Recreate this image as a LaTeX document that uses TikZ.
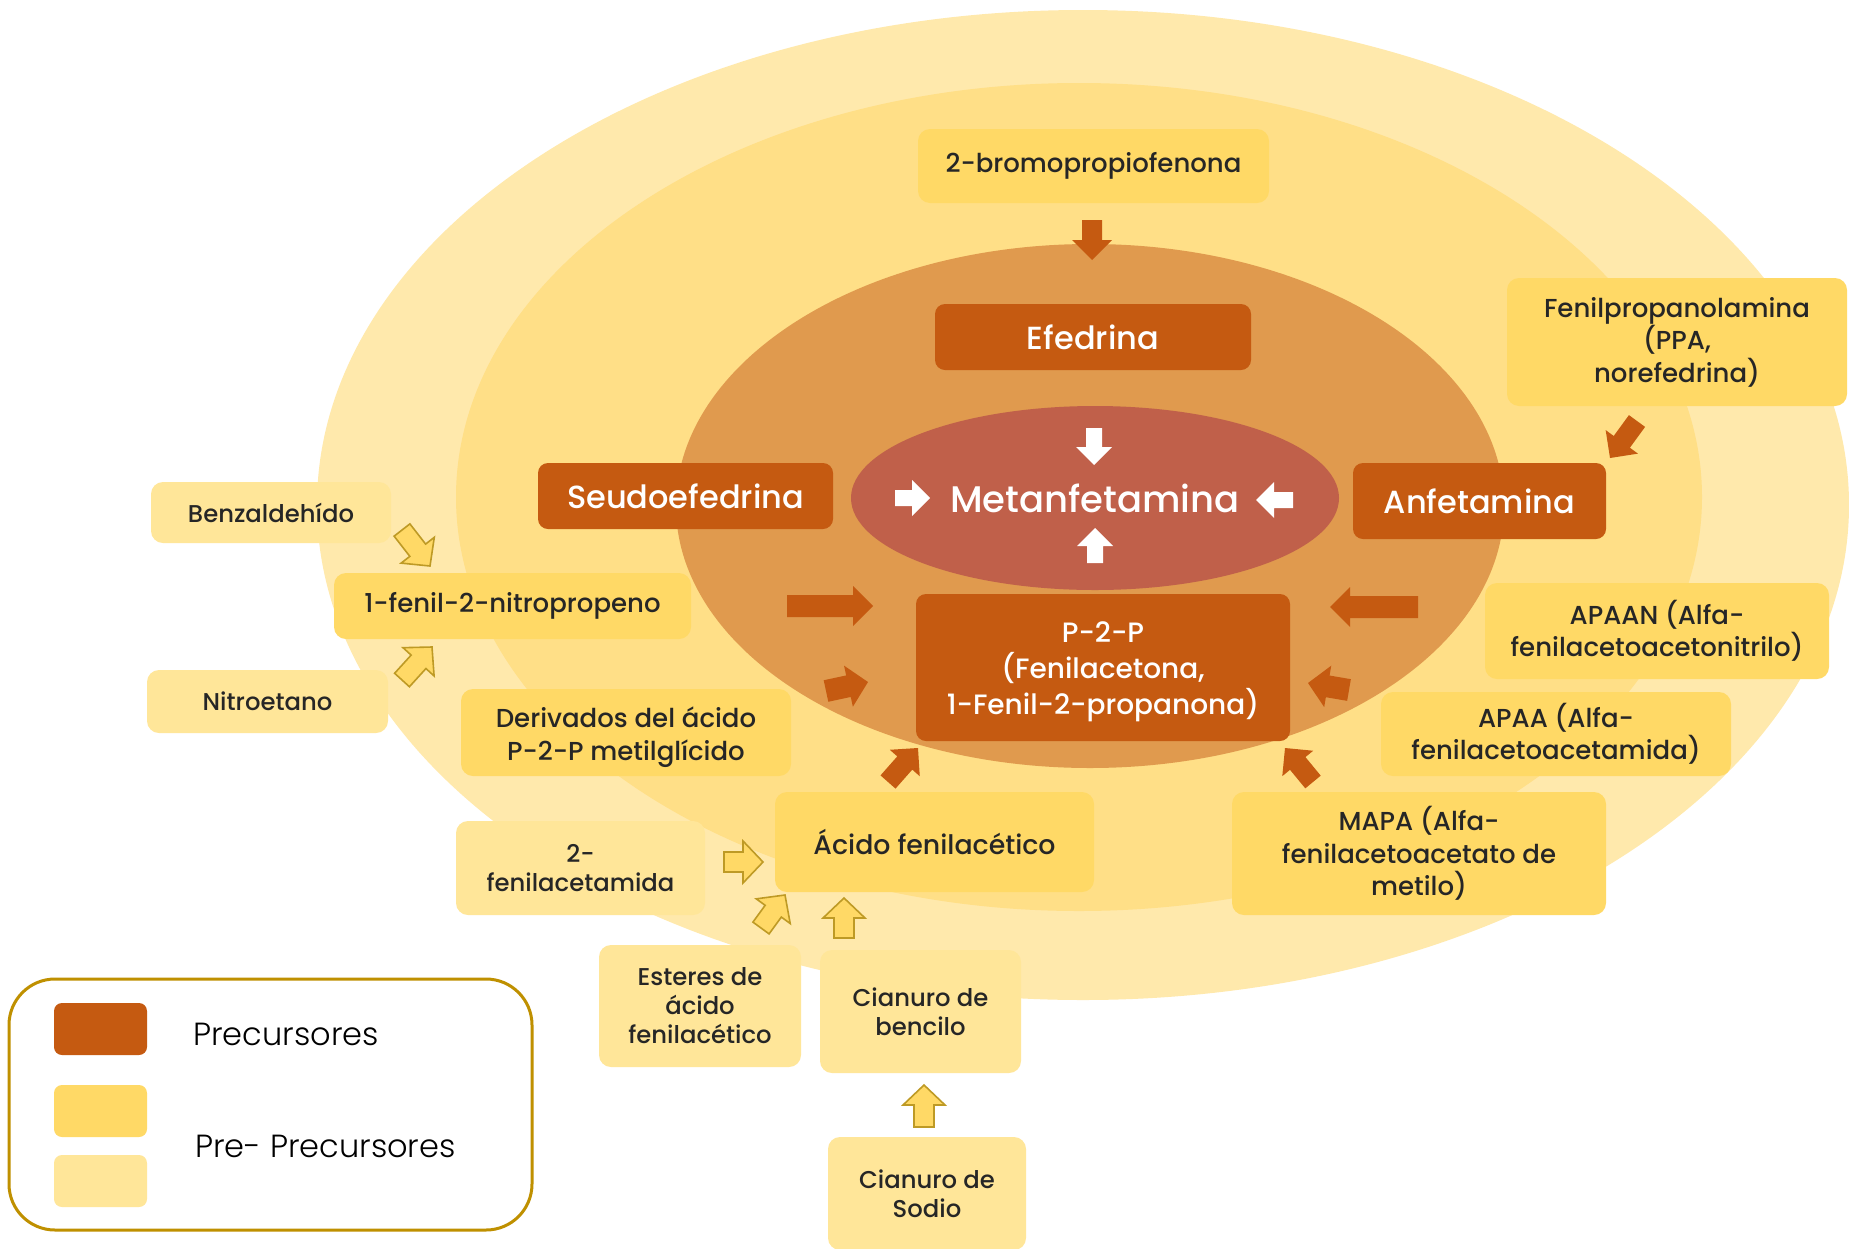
\documentclass[tikz,border=0pt]{standalone}
\usepackage{fontspec}
\setmainfont{Poppins}
\newfontfamily\medfont{Poppins Medium}
\newfontfamily\lightfont{Poppins Light}
\usetikzlibrary{shapes.geometric}
\definecolor{outerY}{HTML}{FFE9AC}
\definecolor{midY}{HTML}{FFDF87}
\definecolor{innerO}{HTML}{E09A4E}
\definecolor{coreR}{HTML}{C0604A}
\definecolor{precO}{HTML}{C55A11}
\definecolor{darkY}{HTML}{FFD966}
\definecolor{lightY}{HTML}{FFE699}
\definecolor{txtC}{HTML}{262626}
\definecolor{goldB}{HTML}{BF9000}
\definecolor{arrowB}{HTML}{BE9A25}
% block arrow: style, x1, y1 (tail), x2, y2 (tip), shaft half width, head half width, head length
\newcommand\blockarr[8]{%
 \pgfmathsetmacro\zzdx{#4-#2}%
 \pgfmathsetmacro\zzdy{#5-#3}%
 \pgfmathsetmacro\zzlen{veclen(\zzdx,\zzdy)}%
 \pgfmathsetmacro\zzux{\zzdx/\zzlen}%
 \pgfmathsetmacro\zzuy{\zzdy/\zzlen}%
 \pgfmathsetmacro\zzhx{#4-#8*\zzux}%
 \pgfmathsetmacro\zzhy{#5-#8*\zzuy}%
 \path[#1] ({#2-#6*\zzuy},{#3+#6*\zzux}) -- ({\zzhx-#6*\zzuy},{\zzhy+#6*\zzux}) -- ({\zzhx-#7*\zzuy},{\zzhy+#7*\zzux}) -- (#4,#5) -- ({\zzhx+#7*\zzuy},{\zzhy-#7*\zzux}) -- ({\zzhx+#6*\zzuy},{\zzhy-#6*\zzux}) -- ({#2+#6*\zzuy},{#3-#6*\zzux}) -- cycle;%
}
% box node: style, name, x1, y1, x2, y2, text
\newcommand\boxnode[7]{%
 \node[#1, minimum width={(#5-#3)*1pt}, minimum height={(#6-#4)*1pt}] (#2) at ({(#3+#5)/2},{(#4+#6)/2}) {#7};%
}
% text-only node: style, name, x, y, text
\newcommand\boxtext[5]{%
 \node[#1, fill=none, draw=none] (#2) at (#3,#4) {#5};%
}
\tikzset{
 boxbase/.style={rounded corners=12pt, inner sep=0pt, align=center, text=txtC, font=\medfont\fontsize{26}{32.5}\selectfont},
 dbox/.style={boxbase, fill=darkY},
 lbox/.style={boxbase, fill=lightY, font=\medfont\fontsize{24.3}{29}\selectfont},
 pbox/.style={boxbase, fill=precO, text=white, rounded corners=10pt, font=\medfont\fontsize{32}{38}\selectfont},
 oarr/.style={fill=precO},
 warr/.style={fill=white},
 yarr/.style={fill=darkY, draw=arrowB, line width=1.6pt, line join=miter},
 legtext/.style={anchor=west, inner sep=0pt, font=\lightfont\fontsize{32}{38}\selectfont, text=black},
}
\begin{document}
\begin{tikzpicture}[x=1pt,y=-1pt]
\useasboundingbox (0,0) rectangle (1849,1248);
\fill[white] (0,0) rectangle (1849,1248);
\clip (0,0) rectangle (1849,1248);
% rings
\fill[outerY] (1083,505) ellipse [x radius=766, y radius=495];
\fill[midY] (1079,497) ellipse [x radius=623, y radius=414];
\fill[innerO] (1090,506) ellipse [x radius=414, y radius=262];
\node[ellipse, fill=coreR, inner sep=0pt, minimum width=488pt, minimum height=184pt, text=white, font=\medfont\fontsize{37}{44}\selectfont] (meta) at (1095,498) {Metanfetamina};
% precursor boxes
\boxnode{pbox}{efed}{935}{304}{1251}{370}{Efedrina}
\boxnode{pbox}{seudo}{538}{463}{833}{529}{Seudoefedrina}
\boxnode{pbox}{anfet}{1353}{463}{1606}{539}{Anfetamina}
\boxnode{pbox}{ptp}{916}{594}{1290}{741}{}
\boxtext{pbox, font=\medfont\fontsize{28}{36}\selectfont}{ptpT}{1103}{672}{P-2-P\\(Fenilacetona,\\1-Fenil-2-propanona)}
% pre-precursor boxes (darker)
\boxnode{dbox}{bromo}{918}{129}{1269}{203}{2-bromopropiofenona}
\boxnode{dbox}{ppa}{1507}{278}{1847}{406}{Fenilpropanolamina\\(PPA,\\norefedrina)}
\boxnode{dbox}{nitrop}{334}{573}{691}{639}{1-fenil-2-nitropropeno}
\boxnode{dbox}{deriv}{461}{689}{791}{776}{}
\boxtext{dbox}{derivT}{626}{737}{Derivados del ácido\\P-2-P metilglícido}
\boxnode{dbox}{apaan}{1485}{583}{1829}{679}{APAAN (Alfa-\\fenilacetoacetonitrilo)}
\boxnode{dbox}{apaa}{1381}{692}{1731}{776}{APAA (Alfa-\\fenilacetoacetamida)}
\boxnode{dbox}{mapa}{1232}{792}{1606}{915}{MAPA (Alfa-\\fenilacetoacetato de\\metilo)}
\boxnode{dbox, font=\medfont\fontsize{26.8}{32}\selectfont}{acido}{775}{792}{1094}{892}{Ácido fenilacético}
% pre-precursor boxes (lighter)
\boxnode{lbox}{benz}{151}{482}{391}{543}{Benzaldehído}
\boxnode{lbox}{nitroet}{147}{670}{388}{733}{Nitroetano}
\boxnode{lbox}{fam}{456}{821}{705}{915}{2-\\fenilacetamida}
\boxnode{lbox}{ester}{599}{945}{801}{1067}{Esteres de\\ácido\\fenilacético}
\boxnode{lbox}{bencil}{820}{950}{1021}{1073}{Cianuro de\\bencilo}
\boxnode{lbox}{sodio}{828}{1137}{1026}{1250}{Cianuro de\\Sodio}
% orange arrows
\blockarr{oarr}{1092}{220}{1092}{260}{10}{20}{20}
\blockarr{oarr}{1637}{421}{1610}{458}{10}{20}{20}
\blockarr{oarr}{787}{606}{873}{606}{11}{20}{20}
\blockarr{oarr}{1418}{607}{1330}{607}{11}{20}{20}
\blockarr{oarr}{826}{691}{868}{682}{11}{21}{20}
\blockarr{oarr}{1349}{690}{1308}{683}{11}{21}{20}
\blockarr{oarr}{888}{782}{918}{748}{10}{20}{20}
\blockarr{oarr}{1313}{782}{1285}{748}{10}{20}{20}
% white arrows
\blockarr{warr}{1094}{428}{1094}{465}{8}{18}{18}
\blockarr{warr}{1095}{563}{1095}{528}{8}{18}{18}
\blockarr{warr}{895}{498}{930}{498}{8}{18}{18}
\blockarr{warr}{1293}{500}{1256}{500}{8}{18}{18}
% yellow arrows
\blockarr{yarr}{402}{530}{430}{566}{10}{21}{20}
\blockarr{yarr}{402}{680}{432}{647}{10}{21}{20}
\blockarr{yarr}{724}{862}{763}{862}{10}{21}{20}
\blockarr{yarr}{761}{928}{785}{895}{10}{21}{20}
\blockarr{yarr}{844}{938}{844}{898}{10}{21}{20}
\blockarr{yarr}{924}{1127}{924}{1085}{10}{21}{20}
% legend
\boxnode{draw=goldB, line width=3pt, rounded corners=46pt, fill=white, inner sep=0pt}{legend}{9}{979}{532}{1230}{}
\boxnode{fill=precO, rounded corners=8pt, inner sep=0pt}{lgA}{54}{1003}{147}{1055}{}
\boxnode{fill=darkY, rounded corners=8pt, inner sep=0pt}{lgB}{54}{1085}{147}{1137}{}
\boxnode{fill=lightY, rounded corners=8pt, inner sep=0pt}{lgC}{54}{1155}{147}{1207}{}
\node[legtext] (lgAt) at (193,1034) {Precursores};
\node[legtext] (lgBt) at (195,1146) {Pre- Precursores};
\end{tikzpicture}
\end{document}
